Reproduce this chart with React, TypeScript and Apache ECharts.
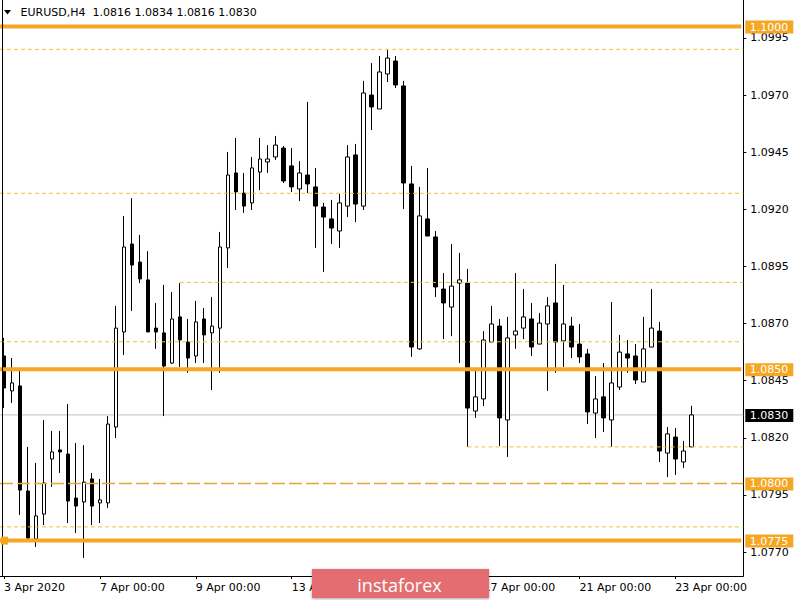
import React, { useEffect, useRef } from 'react';
import * as echarts from 'echarts';

// ---------- data ----------
const symbolName = 'EURUSD';
const timeframe = 'H4';
const tradingDays = ['3 Apr', '6 Apr', '7 Apr', '8 Apr', '9 Apr', '10 Apr', '13 Apr', '14 Apr', '15 Apr', '16 Apr', '17 Apr', '20 Apr', '21 Apr', '22 Apr', '23 Apr'];
const barHours = ['00:00', '04:00', '08:00', '12:00', '16:00', '20:00'];
const BAR_COUNT = 87;
const RIGHT_SHIFT_BARS = 6;

const tickIndices = [0, 12, 24, 36, 48, 60, 72, 84];
const tickLabels = ['3 Apr 2020', '7 Apr 00:00', '9 Apr 00:00', '13 Apr 00:00', '15 Apr 00:00', '17 Apr 00:00', '21 Apr 00:00', '23 Apr 00:00'];

const yTicks = [1.077, 1.0795, 1.082, 1.0845, 1.087, 1.0895, 1.092, 1.0945, 1.097, 1.0995];
const Y_MIN = 1.07595;
const Y_MAX = 1.10116;

const opens = [
  1.08558, 1.08405, 1.08427, 1.07967, 1.07757, 1.07866, 1.08107, 1.08147, 1.08129, 1.07936,
  1.07919, 1.0802, 1.07915, 1.07915, 1.08247, 1.08663, 1.09048, 1.08969, 1.08891, 1.0868,
  1.08659, 1.08527, 1.08729, 1.08619, 1.08558, 1.0872, 1.08659, 1.0868, 1.09031, 1.09359,
  1.09271, 1.09228, 1.09363, 1.09407, 1.09429, 1.09468, 1.0939, 1.09289, 1.0935, 1.09298,
  1.0921, 1.09158, 1.09105, 1.09214, 1.09438, 1.09214, 1.097, 1.09639, 1.09792, 1.09849,
  1.0974, 1.09311, 1.08589, 1.09158, 1.09079, 1.08851, 1.08772, 1.08877, 1.08877, 1.08317,
  1.0837, 1.08619, 1.08689, 1.08278, 1.0865, 1.0868, 1.0872, 1.0861, 1.08698, 1.0879,
  1.08624, 1.08689, 1.0861, 1.08567, 1.08308, 1.08379, 1.08278, 1.08422, 1.08567, 1.08558,
  1.08444, 1.08597, 1.08667, 1.08133, 1.08203, 1.08094, 1.0816,
];
const highs = [
  1.08637, 1.08549, 1.08492, 1.0816, 1.0809, 1.08278, 1.0823, 1.0823, 1.08348, 1.08177,
  1.08168, 1.08046, 1.0802, 1.08295, 1.08777, 1.09171, 1.09249, 1.09088, 1.09017, 1.0879,
  1.08869, 1.08838, 1.08877, 1.0872, 1.08799, 1.08768, 1.08816, 1.09101, 1.09451, 1.09512,
  1.09359, 1.09429, 1.09512, 1.09481, 1.09521, 1.09477, 1.09468, 1.09411, 1.0967, 1.09381,
  1.09228, 1.09241, 1.09267, 1.09481, 1.09486, 1.09762, 1.0984, 1.09871, 1.09897, 1.09871,
  1.09762, 1.0939, 1.09298, 1.09381, 1.09105, 1.08921, 1.09048, 1.09009, 1.08939, 1.08497,
  1.08667, 1.08777, 1.0872, 1.08729, 1.08921, 1.08851, 1.0879, 1.08746, 1.08816, 1.08961,
  1.08869, 1.08729, 1.08698, 1.08589, 1.0847, 1.08527, 1.08794, 1.0865, 1.08628, 1.0861,
  1.08729, 1.08851, 1.08707, 1.08247, 1.08243, 1.08186, 1.0834,
];
const lows = [
  1.0833, 1.08352, 1.07862, 1.07748, 1.07722, 1.07818, 1.07985, 1.08046, 1.07827, 1.07783,
  1.07674, 1.07818, 1.07827, 1.07893, 1.08199, 1.08562, 1.08755, 1.08877, 1.08663, 1.08589,
  1.08295, 1.08523, 1.0851, 1.08484, 1.08527, 1.08527, 1.08409, 1.08484, 1.08943, 1.09197,
  1.09184, 1.09197, 1.09284, 1.09359, 1.09416, 1.09315, 1.09276, 1.09236, 1.09271, 1.09031,
  1.08926, 1.09048, 1.09031, 1.09166, 1.09144, 1.09197, 1.09547, 1.09639, 1.09757, 1.09731,
  1.09201, 1.08554, 1.08585, 1.09083, 1.08816, 1.08632, 1.08645, 1.08527, 1.0816, 1.08287,
  1.08339, 1.08619, 1.08164, 1.08116, 1.08589, 1.08632, 1.08558, 1.0861, 1.08405, 1.08484,
  1.0851, 1.08549, 1.08527, 1.0826, 1.08199, 1.08225, 1.0816, 1.08409, 1.08484, 1.08435,
  1.08444, 1.08597, 1.08094, 1.08028, 1.08037, 1.08068, 1.0816,
];
const closes = [
  1.08418, 1.0844, 1.07971, 1.07761, 1.07858, 1.08002, 1.08138, 1.08138, 1.07923, 1.07901,
  1.08006, 1.07901, 1.07928, 1.0826, 1.0868, 1.09035, 1.08956, 1.08895, 1.08663, 1.08663,
  1.08514, 1.0872, 1.08628, 1.08549, 1.08707, 1.0865, 1.08689, 1.09035, 1.0935, 1.09276,
  1.09214, 1.09381, 1.0942, 1.0942, 1.09481, 1.09324, 1.09298, 1.09359, 1.09311, 1.09214,
  1.09166, 1.09118, 1.09228, 1.09429, 1.09223, 1.09709, 1.09648, 1.09801, 1.09862, 1.09744,
  1.09315, 1.08597, 1.09171, 1.09083, 1.0886, 1.0879, 1.08864, 1.08891, 1.0833, 1.08379,
  1.08628, 1.08698, 1.08287, 1.08637, 1.08667, 1.08729, 1.08597, 1.08702, 1.08777, 1.08619,
  1.08698, 1.08597, 1.08554, 1.08313, 1.0837, 1.08287, 1.0844, 1.08575, 1.08549, 1.08453,
  1.08589, 1.0868, 1.08142, 1.08217, 1.08107, 1.08142, 1.083,
];

// horizontal levels drawn on the chart
const keyLevels = [1.1, 1.085, 1.0775];               // thick orange lines
const roundLevel = 1.08;                               // long-dashed orange
const dashedLevels = [1.099, 1.0927, 1.0862, 1.0781];  // full width yellow dashed
const partialLevelValues = [1.0888, 1.0816];           // yellow dashed, starting at a bar
const partialLevelStartBars = [22, 58];
const currentPrice = 1.083;

// ---------- derived ----------
const categories: string[] = [];
for (const d of tradingDays) {
  for (const h of barHours) {
    if (categories.length < BAR_COUNT) categories.push(`${d} ${h}`);
  }
}
const axisCategories = categories.concat(
  Array.from({ length: RIGHT_SHIFT_BARS }, (_, k) => `shift${k}`)
);
const candleData = categories.map((_, i) => [opens[i], closes[i], lows[i], highs[i]]);

const FONT = 'DejaVu Sans';
const ORANGE = '#F5A623';
const YELLOW = '#EAC43E';
const GRID = { left: -0.7, right: 56.7, top: 0, bottom: 24 };

export default function App() {
  const ref = useRef<HTMLDivElement>(null);

  useEffect(() => {
    if (!ref.current) return;
    const chart = echarts.init(ref.current, null, { renderer: 'svg' });

    const option: any = {
      animation: false,
      backgroundColor: '#ffffff',
      textStyle: { fontFamily: FONT },
      grid: { ...GRID, containLabel: false },
      xAxis: {
        type: 'category',
        data: axisCategories,
        boundaryGap: true,
        axisLine: { show: true, lineStyle: { color: '#000', width: 1 } },
        axisTick: { show: true, interval: 11, alignWithLabel: true, length: 3, lineStyle: { color: '#000' } },
        axisLabel: {
          interval: 11,
          align: 'left',
          verticalAlign: 'middle',
          margin: 11,
          color: '#000',
          fontSize: 11,
          fontFamily: FONT,
          formatter: (_v: string, idx: number) => {
            const k = tickIndices.indexOf(idx);
            return k >= 0 ? tickLabels[k] : '';
          },
        },
        splitLine: { show: false },
      },
      yAxis: {
        type: 'value',
        position: 'right',
        min: Y_MIN,
        max: Y_MAX,
        axisLine: { show: true, lineStyle: { color: '#000', width: 1 } },
        axisTick: { show: true, customValues: yTicks, length: 3, lineStyle: { color: '#000' } },
        axisLabel: {
          customValues: yTicks,
          formatter: (v: number) => v.toFixed(4),
          color: '#000',
          fontSize: 11,
          fontFamily: FONT,
          margin: 7,
          padding: [3, 0, 0, 0],
        },
        splitLine: { show: false },
      },
      series: [
        {
          type: 'candlestick',
          data: candleData,
          barWidth: 4,
          z: 3,
          itemStyle: {
            color: '#ffffff',
            color0: '#000000',
            borderColor: '#000000',
            borderColor0: '#000000',
            borderWidth: 1,
          },
        },
      ],
    };

    chart.setOption(option);

    const py = (v: number) => chart.convertToPixel({ yAxisIndex: 0 }, v) as number;
    const px = (i: number) => chart.convertToPixel({ xAxisIndex: 0 }, i) as number;
    const right = chart.getWidth() - GRID.right;
    const bottom = chart.getHeight() - GRID.bottom;
    const left = Math.max(0, GRID.left);

    const hLine = (v: number, x1: number, x2: number, stroke: string, lineWidth: number, lineDash: number[] | null, z: number) => ({
      type: 'line',
      z,
      silent: true,
      shape: { x1, y1: py(v), x2, y2: py(v) },
      style: { stroke, lineWidth, lineDash: lineDash || undefined },
    });

    const priceBox = (v: number, fill: string) => ({
      type: 'group',
      z: 100,
      children: [
        { type: 'rect', z: 100, shape: { x: right + 2, y: py(v) - 6, width: 48, height: 13 }, style: { fill } },
        {
          type: 'text', z: 101, x: right + 6.5, y: py(v) + 0.5,
          style: { text: v.toFixed(4), fill: '#fff', font: `11px "${FONT}"`, align: 'left', verticalAlign: 'middle', textAlign: 'left', textVerticalAlign: 'middle' },
        },
      ],
    });

    const last = BAR_COUNT - 1;
    const headerText = `${symbolName},${timeframe}\u00a0\u00a0${opens[last].toFixed(4)} ${highs[last].toFixed(4)} ${lows[last].toFixed(4)} ${closes[last].toFixed(4)}`;

    const graphics: any[] = [
      // current price line (behind candles)
      hLine(currentPrice, left, right, '#C0C0C0', 1, null, 1),
      // full width dashed yellow levels
      ...dashedLevels.map((v) => hLine(v, left, right, YELLOW, 1, [4, 3], 10)),
      // partial dashed levels
      ...partialLevelValues.map((v, k) => hLine(v, px(partialLevelStartBars[k]), right, YELLOW, 1, [4, 3], 10)),
      // round number level
      hLine(roundLevel, left, right, '#E8A33A', 1.5, [13, 4], 11),
      // key levels
      ...keyLevels.map((v) => hLine(v, 0, right - 2, ORANGE, 4, null, 12)),
      // left frame
      { type: 'line', z: 50, shape: { x1: 2.5, y1: 0, x2: 2.5, y2: bottom }, style: { stroke: '#000', lineWidth: 1 } },
      // anchor marker on 1.0775 line
      { type: 'rect', z: 60, shape: { x: 1, y: py(keyLevels[2]) - 4, width: 7, height: 8 }, style: { fill: ORANGE } },
      // price boxes
      ...keyLevels.map((v) => priceBox(v, ORANGE)),
      priceBox(roundLevel, ORANGE),
      priceBox(currentPrice, '#000'),
      // header
      { type: 'polygon', z: 100, shape: { points: [[4, 10], [11, 10], [7.5, 14.5]] }, style: { fill: '#000' } },
      {
        type: 'text', z: 100, x: 20.5, y: 12.5,
        style: { text: headerText, fill: '#000', font: `11px "${FONT}"`, align: 'left', verticalAlign: 'middle', textAlign: 'left', textVerticalAlign: 'middle' },
      },
      // logo
      {
        type: 'group', z: 120,
        children: [
          {
            type: 'rect', z: 120, shape: { x: 312, y: 569, width: 177, height: 29 },
            style: { fill: '#E36D6F', shadowBlur: 3, shadowColor: 'rgba(0,0,0,0.35)', shadowOffsetY: 1 },
          },
          {
            type: 'text', z: 121, x: 399.5, y: 584.5,
            style: { text: 'instaforex', fill: '#fff', font: '18px "Open Sans"', align: 'center', verticalAlign: 'middle', textAlign: 'center', textVerticalAlign: 'middle' },
          },
        ],
      },
    ];

    chart.setOption({ graphic: graphics });

    return () => {
      chart.dispose();
    };
  }, []);

  return <div ref={ref} style={{ position: 'fixed', left: 0, top: 0, width: 800, height: 600 }} />;
}
